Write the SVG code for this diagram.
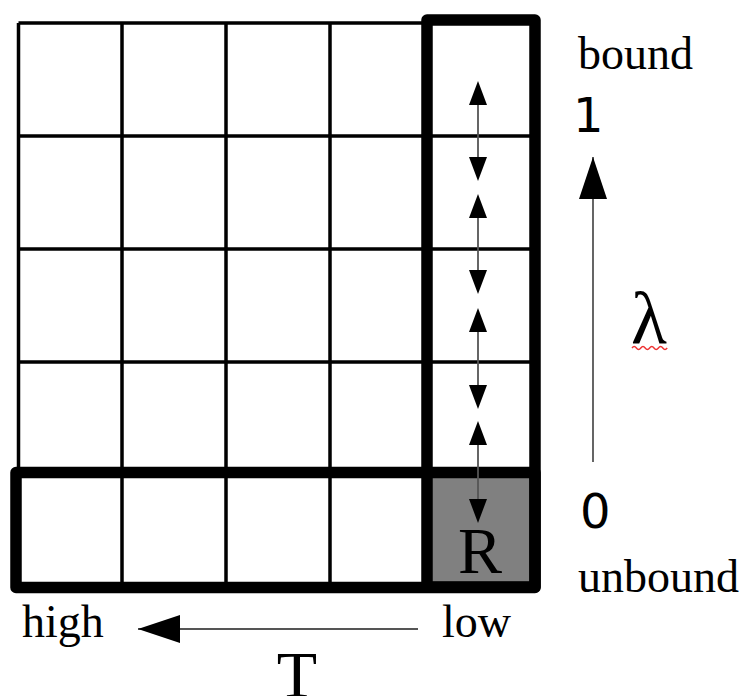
<svg xmlns="http://www.w3.org/2000/svg" width="748" height="696" viewBox="0 0 748 696">
<style>
.thin{fill:none;stroke:#000;stroke-width:3.5}
.thick{fill:none;stroke:#000;stroke-width:11.5;stroke-linejoin:round}
.serif{font-family:"Liberation Serif","Times New Roman",serif;fill:#000}
.sans{font-family:"DejaVu Sans",sans-serif;fill:#000}
.conn{stroke:#555;stroke-width:1.8;fill:none}
</style>
<defs>
<marker id="hs" viewBox="0 0 24 18" refX="0" refY="9" markerWidth="24" markerHeight="18" markerUnits="userSpaceOnUse" orient="auto-start-reverse">
<path d="M0,0 L24,9 L0,18 Z" fill="#000"/>
</marker>
<marker id="hb" viewBox="0 0 42 28" refX="42" refY="14" markerWidth="42" markerHeight="28" markerUnits="userSpaceOnUse" orient="auto">
<path d="M0,0 L42,14 L0,28 Z" fill="#000"/>
</marker>
</defs>
<rect width="748" height="696" fill="#fff"/>
<g id="grid">
<rect id="cell-R" x="432" y="478" width="98" height="104" fill="#808080"/>
<path class="thin" d="M18.5,23 H427 M18.5,136 H535 M18.5,249 H535 M18.5,362 H535 M18.5,23 V472 M122,23 V587 M226,23 V587 M330,23 V587"/>
</g>
<g id="column">
<rect class="thick" x="427" y="20" width="108" height="567"/>
</g>
<g id="row">
<rect class="thick" x="16" y="472.5" width="519" height="115"/>
</g>
<g id="labels">
<text class="serif" x="578" y="69" font-size="46">bound</text>
<text class="sans" x="573" y="132" font-size="48">1</text>
<text class="sans" x="580" y="528" font-size="48">0</text>
<text class="serif" x="578" y="592" font-size="46">unbound</text>
<text class="serif" x="480" y="573" font-size="66" text-anchor="middle">R</text>
<text class="serif" x="442" y="637" font-size="46">low</text>
<text class="serif" x="22" y="637" font-size="46">high</text>
<text class="serif" x="297" y="697" font-size="66" text-anchor="middle">T</text>
<text class="serif" x="649" y="343" font-size="74" text-anchor="middle">λ</text>
<path d="M632,348 q2.2,-3 4.4,0 t4.4,0 t4.4,0 t4.4,0 t4.4,0 t4.4,0 t4.4,0 t4.4,0" fill="none" stroke="#e33" stroke-width="1.4"/>
</g>
<g id="connectors">
<line class="conn" x1="478" y1="105" x2="478" y2="157" marker-start="url(#hs)" marker-end="url(#hs)"/>
<line class="conn" x1="478" y1="218" x2="478" y2="270" marker-start="url(#hs)" marker-end="url(#hs)"/>
<line class="conn" x1="478" y1="332" x2="478" y2="385" marker-start="url(#hs)" marker-end="url(#hs)"/>
<line class="conn" x1="478" y1="445" x2="478" y2="499" marker-start="url(#hs)" marker-end="url(#hs)"/>
<line class="conn" x1="593" y1="462" x2="593" y2="157" marker-end="url(#hb)"/>
<line class="conn" x1="418" y1="629" x2="138" y2="629" marker-end="url(#hb)"/>
</g>
</svg>
